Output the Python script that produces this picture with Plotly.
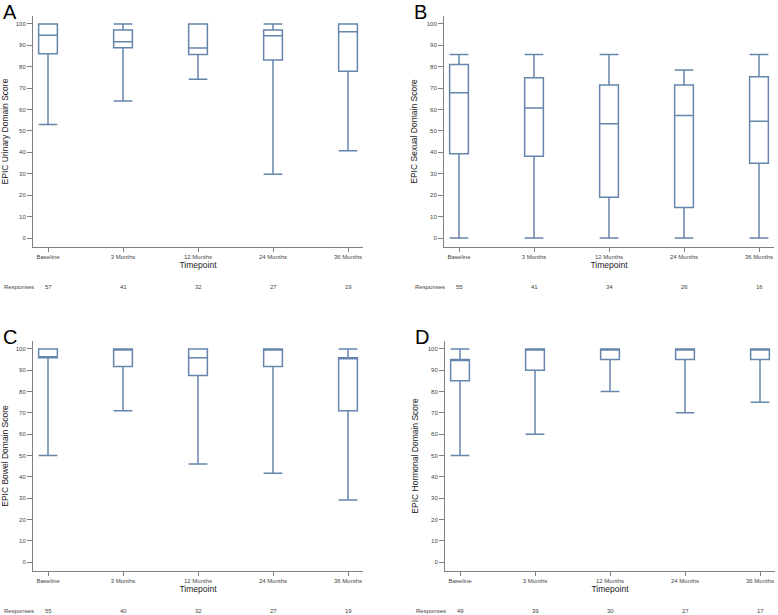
import plotly.graph_objects as go

# 时间点
timepoints = ['Baseline', '3 Months', '12 Months', '24 Months', '36 Months']

# A: Urinary
urinary_low = [53.0, 64.0, 74.1, 29.8, 40.7]
urinary_q1 = [86.1, 88.9, 85.7, 83.2, 77.9]
urinary_med = [94.7, 91.7, 88.8, 94.5, 96.3]
urinary_q3 = [100, 97.2, 100, 97.2, 100]
urinary_high = [100, 100, 100, 100, 100]
urinary_n = [57, 41, 32, 27, 19]

# B: Sexual
sexual_low = [0, 0, 0, 0, 0]
sexual_q1 = [39.3, 38.2, 19.0, 14.2, 34.9]
sexual_med = [67.9, 60.7, 53.4, 57.2, 54.5]
sexual_q3 = [81.0, 74.9, 71.5, 71.5, 75.3]
sexual_high = [85.7, 85.7, 85.7, 78.5, 85.7]
sexual_n = [55, 41, 34, 26, 16]

# C: Bowel
bowel_low = [50.0, 71.0, 46.0, 41.6, 29.1]
bowel_q1 = [95.8, 91.7, 87.5, 91.7, 71.0]
bowel_med = [95.8, 100, 95.8, 100, 95.8]
bowel_q3 = [100, 100, 100, 100, 95.8]
bowel_high = [100, 100, 100, 100, 100]
bowel_n = [55, 40, 32, 27, 19]

# D: Hormonal
hormonal_low = [50, 60, 80, 70, 75]
hormonal_q1 = [85, 90, 95, 95, 95]
hormonal_med = [95, 100, 100, 100, 100]
hormonal_q3 = [95, 100, 100, 100, 100]
hormonal_high = [100, 100, 100, 100, 100]
hormonal_n = [49, 39, 30, 27, 17]

panels = [
  ('A', 'EPIC Urinary Domain Score', urinary_low, urinary_q1, urinary_med, urinary_q3, urinary_high, urinary_n),
  ('B', 'EPIC Sexual Domain Score', sexual_low, sexual_q1, sexual_med, sexual_q3, sexual_high, sexual_n),
  ('C', 'EPIC Bowel Domain Score', bowel_low, bowel_q1, bowel_med, bowel_q3, bowel_high, bowel_n),
  ('D', 'EPIC Hormonal Domain Score', hormonal_low, hormonal_q1, hormonal_med, hormonal_q3, hormonal_high, hormonal_n),
]

W, H = 778, 615
line_col = '#6585ad'
axis_col = '#808080'
font = 'Liberation Sans, Arial, sans-serif'

# 参考图中的像素位置 -> paper 坐标
px_x = [(33, 363), (444, 774), (33, 363), (445, 775)]
px_y = [(16, 247), (16, 247), (341, 571), (341, 571)]

fig = go.Figure()
annotations = []
for i, (letter, ytitle, lo, q1, med, q3, hi, n) in enumerate(panels):
  ax = '' if i == 0 else str(i + 1)
  x0, x1 = px_x[i]
  y0, y1 = px_y[i]
  fig.add_trace(go.Box(
    x=timepoints, lowerfence=lo, q1=q1, median=med, q3=q3, upperfence=hi,
    width=0.25, whiskerwidth=1, fillcolor='rgba(0,0,0,0)',
    line=dict(color=line_col, width=1.5),
    xaxis='x' + ax, yaxis='y' + ax, showlegend=False, hoverinfo='skip',
  ))
  common = dict(showline=True, linecolor=axis_col, linewidth=1, ticks='outside',
                tickcolor=axis_col, showgrid=False, zeroline=False,
                tickfont=dict(size=6, color='#444', family=font))
  fig.layout['xaxis' + ax] = dict(
    domain=[x0 / W, x1 / W], anchor='y' + ax, type='category',
    range=[-0.2, 4.2], categoryorder='array', categoryarray=timepoints, ticklen=4,
    title=dict(text='Timepoint', font=dict(size=8.5, color='#222', family=font), standoff=2),
    **common)
  fig.layout['yaxis' + ax] = dict(
    domain=[1 - y1 / H, 1 - y0 / H], anchor='x' + ax, range=[-4.2, 103.7],
    tickvals=list(range(0, 101, 10)), ticklen=5,
    title=dict(text=ytitle, font=dict(size=8.5, color='#222', family=font), standoff=7),
    **common)
  # 面板字母
  annotations.append(dict(text=letter, x=(x0 - 32) / W, y=1 - (y0 - 17) / H,
                          xref='paper', yref='paper', xanchor='left', yanchor='top',
                          showarrow=False, font=dict(size=20, color='#000', family=font)))
  # Responses 行
  ry = 1 - (y1 + 40) / H
  annotations.append(dict(text='Responses', x=(x0 - 31) / W, y=ry, xref='paper', yref='paper',
                          xanchor='left', yanchor='middle', showarrow=False,
                          font=dict(size=6, color='#444', family=font)))
  for t, v in zip(timepoints, n):
    annotations.append(dict(text=str(v), x=t, y=ry, xref='x' + ax, yref='paper',
                            xanchor='center', yanchor='middle', showarrow=False,
                            font=dict(size=6, color='#444', family=font)))

fig.update_layout(width=W, height=H, margin=dict(l=0, r=0, t=0, b=0),
                  paper_bgcolor='white', plot_bgcolor='white',
                  annotations=annotations)
# 去掉 body 默认边距
fig.write_html('out.html', config={'displayModeBar': False},
               post_script="document.body.style.margin='0';document.body.style.overflow='hidden';")
